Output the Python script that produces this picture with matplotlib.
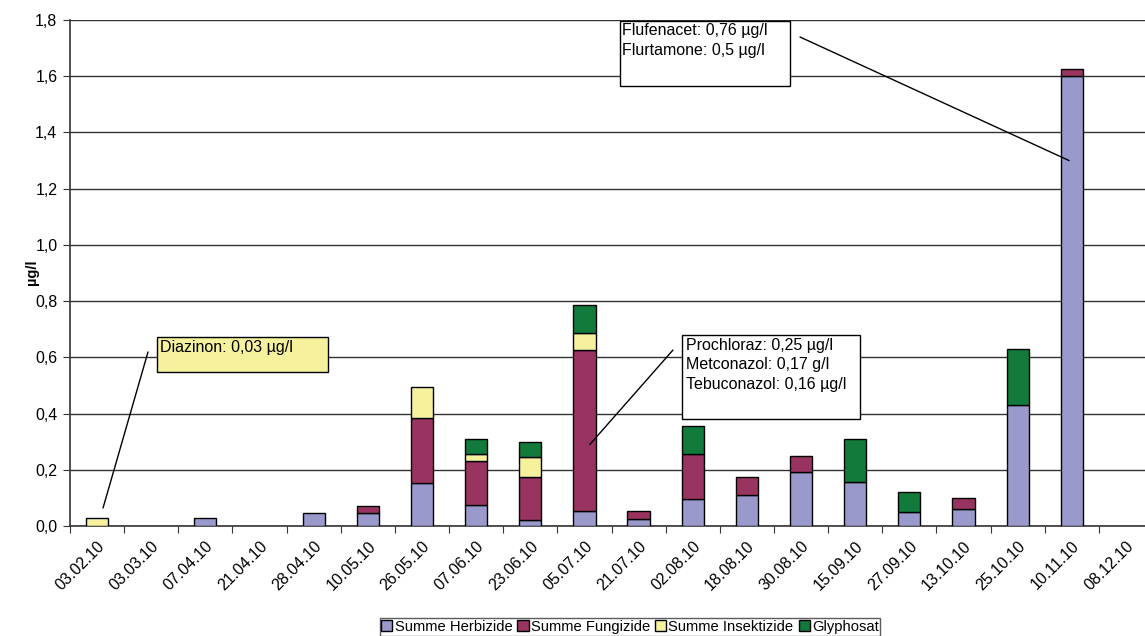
import matplotlib
matplotlib.use("Agg")
import matplotlib.pyplot as plt
from matplotlib.patches import Rectangle
import numpy as np

plt.rcParams['font.family'] = ['Liberation Sans', 'DejaVu Sans']

# sampling dates
dates = ["03.02.10", "03.03.10", "07.04.10", "21.04.10", "28.04.10", "10.05.10",
         "26.05.10", "07.06.10", "23.06.10", "05.07.10", "21.07.10", "02.08.10",
         "18.08.10", "30.08.10", "15.09.10", "27.09.10", "13.10.10", "25.10.10",
         "10.11.10", "08.12.10"]

# stacked values in µg/l
herbizide = [0, 0, 0.03, 0, 0.047, 0.047, 0.154, 0.075, 0.021, 0.053, 0.024, 0.095,
             0.109, 0.193, 0.157, 0.051, 0.059, 0.432, 1.60, 0]
fungizide = [0, 0, 0, 0, 0, 0.025, 0.231, 0.156, 0.155, 0.572, 0.028, 0.161,
             0.064, 0.056, 0, 0, 0.039, 0, 0.024, 0]
insektizide = [0.028, 0, 0, 0, 0, 0, 0.108, 0.026, 0.07, 0.063, 0, 0,
               0, 0, 0, 0, 0, 0, 0, 0]
glyphosat = [0, 0, 0, 0, 0, 0, 0, 0.052, 0.054, 0.098, 0, 0.10,
             0, 0, 0.152, 0.069, 0, 0.199, 0, 0]

series = [("Summe Herbizide", herbizide, "#9999CC"),
          ("Summe Fungizide", fungizide, "#993360"),
          ("Summe Insektizide", insektizide, "#F5F19C"),
          ("Glyphosat", glyphosat, "#127B3C")]

W, H = 1145, 636
FS = 11.5
fig = plt.figure(figsize=(W / 100, H / 100), dpi=100)
ax = fig.add_axes([70 / W, 1 - 526 / H, 1083 / W, 506 / H])

x = np.arange(len(dates))
bottom = np.zeros(len(dates))
for name, vals, col in series:
    vals = np.array(vals)
    show = vals > 0
    ax.bar(x[show], vals[show], width=0.41, bottom=bottom[show], color=col,
           edgecolor="black", linewidth=1.0, label=name, zorder=3)
    bottom += vals

ax.set_xlim(-0.5, len(dates) - 0.5)
ax.set_ylim(0, 1.8)
yt = np.arange(0, 1.81, 0.2)
ax.set_yticks(yt)
ax.set_yticklabels([f"{v:.1f}".replace(".", ",") for v in yt], fontsize=FS)
ax.yaxis.grid(True, color="#333333", linewidth=1.0, zorder=0)
ax.set_axisbelow(True)

# category boundaries as ticks, labels centred
ax.set_xticks(np.arange(-0.5, len(dates), 1.0))
ax.set_xticklabels([])
ax.set_xticks(x, minor=True)
ax.set_xticklabels(dates, minor=True, rotation=45, ha="right", rotation_mode="anchor",
                   fontsize=FS)
ax.tick_params(axis="x", which="minor", length=0, pad=9)
ax.tick_params(axis="x", which="major", length=5, color="#333333")
ax.tick_params(axis="y", length=5, color="#333333", pad=4)

for s in ["top", "right"]:
    ax.spines[s].set_visible(False)
for s in ["left", "bottom"]:
    ax.spines[s].set_color("#333333")
    ax.spines[s].set_linewidth(1.2)

fig.text(32 / W, 1 - 272 / H, "µg/l", fontsize=10.5, fontweight="bold",
         rotation=90, ha="center", va="center")

# annotation boxes (figure pixels, origin top-left converted)
def box(x0, y0, x1, y1, face):
    fig.patches.append(Rectangle((x0 / W, 1 - y1 / H), (x1 - x0) / W, (y1 - y0) / H,
                                 transform=fig.transFigure, facecolor=face,
                                 edgecolor="black", linewidth=1.0, zorder=5))

def lines(x0, y0, texts, step=19.5):
    for i, t in enumerate(texts):
        fig.text(x0 / W, 1 - (y0 + i * step) / H, t, fontsize=FS, va="top", ha="left",
                 zorder=6)

def leader(px, py, xd, yd):
    ax.annotate("", xy=(xd, yd), xycoords="data", xytext=(px, H - py),
                textcoords="figure pixels",
                arrowprops=dict(arrowstyle="-", color="black", linewidth=1.0,
                                shrinkA=0, shrinkB=0),
                zorder=6, annotation_clip=False)

box(157, 337, 328, 372, "#F5F19C")
lines(160, 340, ["Diazinon: 0,03 µg/l"])
leader(148, 352, 0.11, 0.064)

box(682, 335, 860, 419, "white")
lines(686, 338, ["Prochloraz: 0,25 µg/l", "Metconazol: 0,17 g/l", "Tebuconazol: 0,16 µg/l"])
leader(673, 350, 9.1, 0.29)

box(620, 21, 790, 86, "white")
lines(622, 23, ["Flufenacet: 0,76 µg/l", "Flurtamone: 0,5 µg/l"])
leader(800, 37, 17.95, 1.30)

leg = fig.legend(loc="center", bbox_to_anchor=(630 / W, 1 - 627 / H), ncol=4,
                 fontsize=10.6, frameon=True, fancybox=False, handlelength=0.75,
                 handleheight=0.75, handletextpad=0.15, columnspacing=0.35,
                 borderpad=0.12, borderaxespad=0)
leg.get_frame().set_edgecolor("#333333")
leg.get_frame().set_linewidth(1.0)

fig.savefig("out.png", dpi=100)
